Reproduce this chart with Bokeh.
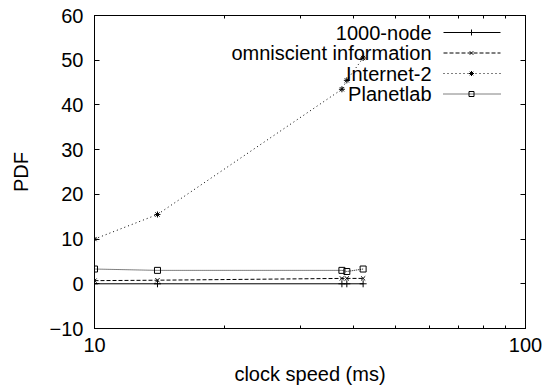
import math
from bokeh.plotting import figure
from bokeh.models import (Range1d, FixedTicker, LogAxis, LinearAxis, Label,
                          BasicTickFormatter)
from bokeh.embed import file_html
from bokeh.resources import INLINE

# ---- data ----
clock_speed = [10, 14, 37.5, 38.5, 42]
node_1000 = [0, 0, 0, 0, 0]
omniscient = [0.7, 0.8, 1.2, 1.2, 1.2]
internet2 = [10, 15.5, 43.5, 45.5, 50.5]
planetlab = [3.3, 3.0, 3.0, 2.75, 3.3]
series_names = ["1000-node", "omniscient information", "Internet-2", "Planetlab"]
y_ticks = [-10, 0, 10, 20, 30, 40, 50, 60]
x_major = [10, 100]
x_minor = [20, 30, 40, 50, 60, 70, 80, 90]

FONT = "Liberation Sans"
W, H = 545, 390
L, R, T, B = 94, 20, 15, 62
X0, X1, Y0, Y1 = 10, 100, -10, 60

p = figure(width=W, height=H, x_axis_type="log", output_backend="svg",
           toolbar_location=None, x_range=Range1d(X0, X1), y_range=Range1d(Y0, Y1),
           min_border_left=L, min_border_right=R, min_border_top=T, min_border_bottom=B)
p.grid.visible = False
p.outline_line_color = "black"
p.outline_line_width = 1
p.background_fill_color = "white"
p.border_fill_color = "white"

def style_axis(ax, show_labels=True):
    ax.major_tick_in = 5
    ax.major_tick_out = 0
    ax.minor_tick_in = 3
    ax.minor_tick_out = 0
    ax.major_tick_line_color = "black"
    ax.minor_tick_line_color = "black"
    ax.axis_line_color = "black"
    ax.major_label_text_font = FONT
    ax.major_label_text_color = "black"
    if show_labels:
        ax.major_label_text_font_size = "20px"
    else:
        ax.major_label_text_font_size = "1px"
        ax.major_label_text_alpha = 0
        ax.major_label_standoff = 0
    ax.axis_label_text_font = FONT
    ax.axis_label_text_font_size = "20px"
    ax.axis_label_text_font_style = "normal"
    ax.axis_label_text_color = "black"

p.xaxis.ticker = FixedTicker(ticks=x_major, minor_ticks=x_minor)
p.xaxis.formatter = BasicTickFormatter()
p.yaxis.ticker = FixedTicker(ticks=y_ticks)
style_axis(p.xaxis[0])
style_axis(p.yaxis[0])
p.xaxis.axis_label = "clock speed (ms)"
p.yaxis.axis_label = "PDF"
p.xaxis.major_label_standoff = 9
p.xaxis.axis_label_standoff = 8
p.yaxis.major_label_standoff = 11
p.yaxis.axis_label_standoff = 15

top = LogAxis(ticker=FixedTicker(ticks=x_major, minor_ticks=x_minor))
style_axis(top, False)
p.add_layout(top, "above")
right = LinearAxis(ticker=FixedTicker(ticks=y_ticks))
style_axis(right, False)
p.add_layout(right, "right")

series = [node_1000, omniscient, internet2, planetlab]
dashes = ["solid", "4 2", "1 3", "1 1"]
markers = ["cross", "x", "asterisk", "square"]
sizes = [7, 6, 6, 6]
for ys, d, m, s in zip(series, dashes, markers, sizes):
    p.line(clock_speed, ys, line_color="black", line_width=1, line_dash=d)
    p.scatter(clock_speed, ys, marker=m, size=s, line_color="black",
              fill_color=None, line_width=1)

# ---- legend (gnuplot style: right-aligned text, sample at right) ----
fw = W - L - R
fh = H - T - B
def x_at(px):
    return 10 ** (math.log10(X0) + (px - L) / fw * (math.log10(X1) - math.log10(X0)))
def y_at(py):
    return Y1 - (py - T) / fh * (Y1 - Y0)

rows = [32, 52.5, 73, 93.5]
for name, py, d, m, s in zip(series_names, rows, dashes, markers, sizes):
    p.add_layout(Label(x=431 - L, y=(T + fh) - py, x_units="screen", y_units="screen",
                       text=name, text_align="right", text_baseline="middle",
                       text_font=FONT, text_font_size="20px", text_color="black"))
    p.line([x_at(443), x_at(500)], [y_at(py), y_at(py)], line_color="black",
           line_width=1, line_dash=d)
    p.scatter([x_at(471)], [y_at(py)], marker=m, size=s - 1, line_color="black",
              fill_color=None, line_width=1)

open("out.html", "w").write(file_html(p, INLINE))
